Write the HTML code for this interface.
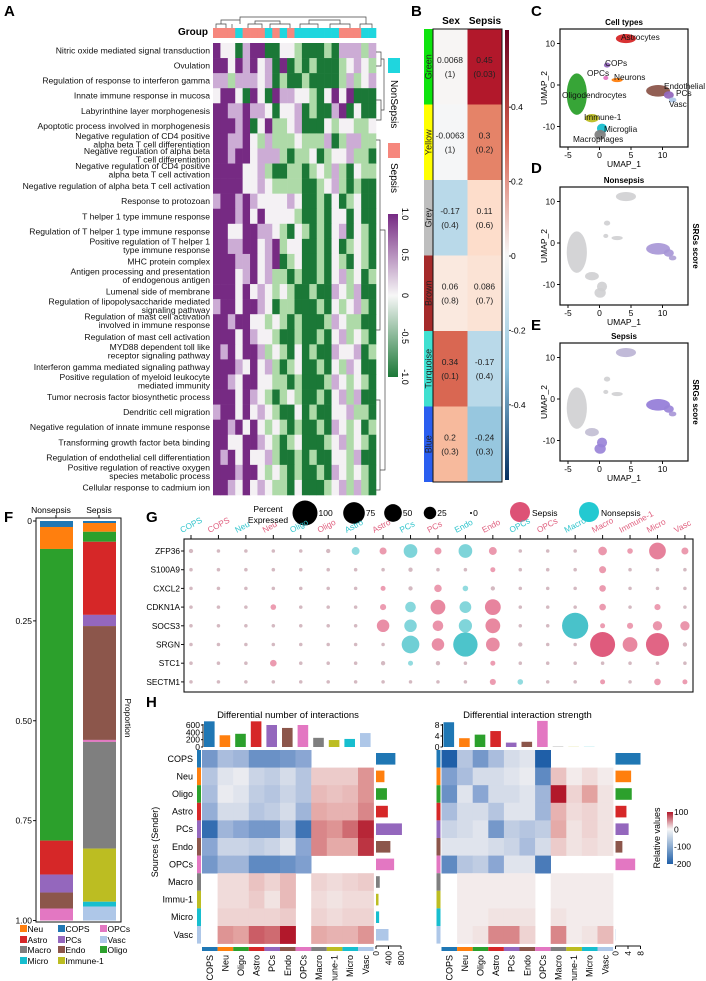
<!DOCTYPE html>
<html><head><meta charset="utf-8"><style>
html,body{margin:0;padding:0;background:#fff}
svg{display:block;font-family:"Liberation Sans",Arial,sans-serif}
</style></head><body>
<svg id="fig" width="706" height="981" viewBox="0 0 706 981" xmlns="http://www.w3.org/2000/svg">
<defs>
<linearGradient id="gA" x1="0" y1="0" x2="0" y2="1"><stop offset="0" stop-color="#762a83"/><stop offset="0.5" stop-color="#f7f7f7"/><stop offset="1" stop-color="#1b7837"/></linearGradient>
<linearGradient id="gB" x1="0" y1="0" x2="0" y2="1"><stop offset="0" stop-color="#67001f"/><stop offset="0.25" stop-color="#d6604d"/><stop offset="0.5" stop-color="#f7f7f7"/><stop offset="0.75" stop-color="#92c5de"/><stop offset="1" stop-color="#053061"/></linearGradient>
<linearGradient id="gH" x1="0" y1="0" x2="0" y2="1"><stop offset="0" stop-color="#b2182b"/><stop offset="0.33" stop-color="#f7f7f7"/><stop offset="1" stop-color="#1f5fa8"/></linearGradient>
</defs>
<g font-weight="bold" font-size="15" fill="#000">
<text x="4" y="16">A</text>
<text x="411" y="16">B</text>
<text x="531" y="16">C</text>
<text x="531" y="173">D</text>
<text x="531" y="330">E</text>
<text x="4" y="522">F</text>
<text x="146" y="522">G</text>
<text x="146" y="707">H</text>
</g>
</svg>
<script>
const NS='http://www.w3.org/2000/svg';
const svg=document.getElementById('fig');
function mk(tag,attrs,parent){const e=document.createElementNS(NS,tag);for(const k in attrs)e.setAttribute(k,attrs[k]);(parent||svg).appendChild(e);return e;}
function tx(x,y,s,attrs){const e=mk('text',Object.assign({x:x,y:y},attrs||{}));e.textContent=s;return e;}
function lerpHex(a,b,t){const pa=[1,3,5].map(i=>parseInt(a.substr(i,2),16)),pb=[1,3,5].map(i=>parseInt(b.substr(i,2),16));return 'rgb('+pa.map((v,i)=>Math.round(v+(pb[i]-v)*t)).join(',')+')';}
function scaleColor(v,stops){for(let i=0;i<stops.length-1;i++){if(v<=stops[i+1][0]){const t=Math.max(0,(v-stops[i][0])/(stops[i+1][0]-stops[i][0]));return lerpHex(stops[i][1],stops[i+1][1],t);}}return stops[stops.length-1][1];}

/* ================= Panel A data ================= */
const aTerms=[["Nitric oxide mediated signal transduction"],["Ovulation"],["Regulation of response to interferon gamma"],["Innate immune response in mucosa"],["Labyrinthine layer morphogenesis"],["Apoptotic process involved in morphogenesis"],["Negative regulation of CD4 positive","alpha beta T cell differentiation"],["Negative regulation of alpha beta","T cell differentiation"],["Negative regulation of CD4 positive","alpha beta T cell activation"],["Negative regulation of alpha beta T cell activation"],["Response to protozoan"],["T helper 1 type immune response"],["Regulation of T helper 1 type immune response"],["Positive regulation of T helper 1","type immune response"],["MHC protein complex"],["Antigen processing and presentation","of endogenous antigen"],["Lumenal side of membrane"],["Regulation of lipopolysaccharide mediated","signaling pathway"],["Regulation of mast cell activation","involved in immune response"],["Regulation of mast cell activation"],["MYD88 dependent toll like","receptor signaling pathway"],["Interferon gamma mediated signaling pathway"],["Positive regulation of myeloid leukocyte","mediated immunity"],["Tumor necrosis factor biosynthetic process"],["Dendritic cell migration"],["Negative regulation of innate immune response"],["Transforming growth factor beta binding"],["Regulation of endothelial cell differentiation"],["Positive regulation of reactive oxygen","species metabolic process"],["Cellular response to cadmium ion"]];
const aGroups="SSSNSSSNSNSNNNNNNSSSNN";
const aRows=["PwwGpPPGGwwgGGGgGpppgp","PPwPpPwpGPGgGgGGGgwpwg","ppgpppwpGgGGgGGGGgpgwp","wPPwGPwGPppwwgGwPwPGGG","PPppPppwGwwpGgGGpPGwGG","PPPpPGwPggwpGGGwgwwggw","PPppPwgpgggwgggpGgppgg","PPpPPwpppgGggwGgwwpggG","PPPPwwpgGGggGgwgpgGwgg","PPPPwwpwggggGGgwpgGgGG","pPPpPpwwwwpwGGgGwGgwGG","PPPpPwPwwwwgGGgGwwGwGG","PPwwPPppwgGwgGgGwpGwgG","PPppPPwpPgwwGGgGwGgwgG","PPPppPwpPGgwGGgGwgGwgG","PPPwpPwpggGgGGgGwpgwGg","PPPwPwpwgwgGGgGGpwgpGG","pPPwPPpwGggGGGgGwgwpgG","PPpPPwwgwgGgGGGgpwggGG","PPPwPpwwgGGgGGgGwpgwgG","PpPwPPpgwgGwGgGGpwwpGg","PPPpwPwpgGgwGGgGwgpwGG","PPpwPPwwggGgGGGgpwgwgG","PPPwPpwgGgwgGGgGwpgpGG","pPPwPwpwgGGwGgGGwwpggG","PPpPwPwgwgGgGGgGpwgwGg","PPwwPPpwgGgwGGGgwpgwgG","PpPwPwwpgGGgGgGGwwgpGG","PPPpPPwgwgGgGGgGpwgwgG","PPpwPwpwggGwGGGgwpgpgG"];
const aLevels={P:1.0,p:0.45,w:0.0,g:-0.45,G:-1.0};

const aX0=213,aX1=376,aY0=43,aY1=495;
const aCW=(aX1-aX0)/aGroups.length, aRH=(aY1-aY0)/aTerms.length;
const aStops=[[-1,'#1b7837'],[-0.5,'#a6d7a0'],[0,'#f4f1f4'],[0.5,'#c7a4d1'],[1,'#762a83']];
const gA=mk('g',{});


tx(208,35,'Group',{'font-size':10,'font-weight':'bold','text-anchor':'end'},gA);
for(let j=0;j<aGroups.length;j++){
  const r=mk('rect',{x:aX0+j*aCW,y:28,width:aCW+0.3,height:10,fill:aGroups[j]==='S'?'#f6877d':'#1fd6de'},gA);
  
  
}
for(let i=0;i<aTerms.length;i++){
  const row=aRows[i];
  for(let j=0;j<aGroups.length;j++){
    const v=aLevels[row[j]]??0;
    const c=mk('rect',{x:aX0+j*aCW,y:aY0+i*aRH,width:aCW+0.3,height:aRH+0.3,fill:scaleColor(v,aStops)},gA);
    
    
  }
  const lines=aTerms[i];const cy=aY0+(i+0.5)*aRH;
  const t=mk('text',{x:210,y:lines.length===1?cy+3:cy-2,'font-size':8.6,'text-anchor':'end',fill:'#111'},gA);
  
  
  lines.forEach((ln,k)=>{const s=mk('tspan',{x:210,dy:k===0?0:8.4},t);s.textContent=ln;});
}
/* dendrograms */
const dg=mk('path',{d:'M216 28V24H226V28M221 24V20H240V24M232 24V28M248 28V24H262V28M255 24V21H280V24M270 28V24H290V28M300 28V24H318V28M309 24V20H340V24M330 28V24H350V28M360 28V24H372V28M366 24V20M240 20V17H366V20',stroke:'#444',fill:'none','stroke-width':0.7},gA);


const dr=mk('path',{d:'M376 52H381V66H376M381 59H384V110H381M376 100H381V120H376M376 140H380V330H376M380 230H385V470H380M376 400H380V490H376',stroke:'#444',fill:'none','stroke-width':0.7},gA);


/* legend */
const lgA=mk('g',{},gA);


mk('rect',{x:388,y:58,width:12,height:15,fill:'#1fd6de'},lgA);
mk('rect',{x:388,y:143,width:12,height:15,fill:'#f6877d'},lgA);
tx(0,0,'NonSepsis',{'font-size':10,transform:'translate(391,80) rotate(90)'},lgA);
tx(0,0,'Sepsis',{'font-size':10,transform:'translate(391,163) rotate(90)'},lgA);
const cbA=mk('rect',{x:388,y:214,width:10,height:163,fill:'url(#gA)'},gA);


const aTicks=['1.0','0.5','0','-0.5','-1.0'];
aTicks.forEach((s,k)=>{const y=214+k*163/4;tx(0,0,s,{'font-size':9,'text-anchor':'middle',transform:`translate(402,${y}) rotate(90)`},gA);});

/* ================= Panel B ================= */
const bModules=['Green','Yellow','Grey','Brown','Turquoise','Blue'];
const bModuleColors=['#0ee40e','#ffff00','#bebebe','#a52a2a','#40e0d0','#2a5ef0'];
const bSex=[0.0068,-0.0063,-0.17,0.06,0.34,0.2];
const bSexP=['1','1','0.4','0.8','0.1','0.3'];
const bSepsis=[0.45,0.3,0.11,0.086,-0.17,-0.24];
const bSepsisP=['0.03','0.2','0.6','0.7','0.4','0.3'];
const bTicks=[0.4,0.2,0,-0.2,-0.4];
const bStops=[[-0.6,'#053061'],[-0.4,'#4393c3'],[-0.25,'#92c5de'],[-0.12,'#d1e5f0'],[0,'#f7f7f7'],[0.12,'#fddbc7'],[0.25,'#f4a582'],[0.35,'#d6604d'],[0.45,'#b2182b'],[0.6,'#67001f']];
const gB=mk('g',{});


const bY0=29,bRH=(482-29)/6;
tx(451,24,'Sex',{'font-size':10,'font-weight':'bold','text-anchor':'middle'},gB);
tx(485,24,'Sepsis',{'font-size':10,'font-weight':'bold','text-anchor':'middle'},gB);
function fmt(v){return String(v);}
for(let i=0;i<bModules.length;i++){
  const y=bY0+i*bRH;
  const s=mk('rect',{x:424,y:y,width:9,height:bRH,fill:bModuleColors[i]},gB);
  
  
  tx(0,0,bModules[i],{'font-size':9,'text-anchor':'middle',fill:'#222',transform:`translate(431.5,${y+bRH/2}) rotate(-90)`},gB);
  [[bSex,bSexP,433],[bSepsis,bSepsisP,467.5]].forEach(([vals,ps,x])=>{
    const c=mk('rect',{x:x,y:y,width:34.5,height:bRH,fill:scaleColor(vals[i],bStops)},gB);
    
    
    tx(x+17,y+bRH/2-4,fmt(vals[i]),{'font-size':8.5,'text-anchor':'middle',fill:'#222'},gB);
    tx(x+17,y+bRH/2+10,'('+ps[i]+')',{'font-size':8.5,'text-anchor':'middle',fill:'#222'},gB);
  });
}
mk('rect',{x:433,y:bY0,width:69,height:453,fill:'none',stroke:'#111','stroke-width':1},gB);
const cbB=mk('rect',{x:505,y:30,width:4,height:450,fill:'url(#gB)'},gB);


const bY=v=>256-v*372;
bTicks.forEach(v=>{mk('line',{x1:509,x2:511,y1:bY(v),y2:bY(v),stroke:'#333'},gB);tx(511,bY(v)+3,String(v),{'font-size':8.5},gB);});

/* ================= Panels C/D/E UMAP ================= */
const umapClusters=['Astrocytes','COPs','OPCs','Neurons','Oligodendrocytes','Immune-1','Microglia','Macrophages','Endothelial','PCs','Vasc'];
const umapCX=[4.2,1.2,1.0,2.8,-3.6,-1.2,0.4,0.1,9.3,11.0,11.6];
const umapCY=[11.2,4.8,1.7,1.2,-2.2,-8.0,-10.5,-12.0,-1.4,-2.4,-3.6];
const umapRX=[1.6,0.5,0.4,0.9,1.6,1.1,0.8,0.9,1.9,0.8,0.6];
const umapRY=[1.1,0.6,0.5,0.5,5.0,1.0,1.2,1.2,1.4,0.9,0.6];
const umapColors=['#d62728','#9467bd','#e377c2','#ff7f0e','#2ca02c','#bcbd22','#17becf','#7f7f7f','#8c564b','#9467bd','#aec7e8'];
const nonsepsisScore=[0,0,0,0,0,0,0,0,0.6,0.6,0.5];
const sepsisScore=[0.3,0,0,0,0,0.2,0.8,0.8,0.9,0.8,0.6];
const uXTicks=[-5,0,5,10],uYTicks=[10,0,-10];
function umapPanel(top,title,mode,scores,name){
  const g=mk('g',{});
  
  
  const X=u=>599.5+u*6.3, Y=u=>top+56-u*4.15;
  tx(624,top-4,title,{'font-size':8,'font-weight':'bold','text-anchor':'middle'},g);
  for(let i=0;i<umapClusters.length;i++){
    let fill=umapColors[i];
    if(mode!=='types'){fill=lerpHex('#cfcfd2','#8a6fd8',scores[i]);}
    const e=mk('ellipse',{cx:X(umapCX[i]),cy:Y(umapCY[i]),rx:umapRX[i]*6.3,ry:umapRY[i]*4.15,fill:fill,opacity:mode==='types'?0.95:0.9},g);
    
    
  }
  mk('rect',{x:560,y:top,width:128,height:118,fill:'none',stroke:'#111','stroke-width':1.2},g);
  uXTicks.forEach(v=>{mk('line',{x1:X(v),x2:X(v),y1:top+118,y2:top+121,stroke:'#111'},g);tx(X(v),top+129,String(v),{'font-size':8.5,'text-anchor':'middle'},g);});
  uYTicks.forEach(v=>{mk('line',{x1:557,x2:560,y1:Y(v),y2:Y(v),stroke:'#111'},g);tx(555,Y(v)+3,String(v),{'font-size':8.5,'text-anchor':'end'},g);});
  tx(624,top+138,'UMAP_1',{'font-size':8.5,'text-anchor':'middle'},g);
  tx(0,0,'UMAP_2',{'font-size':8.5,'text-anchor':'middle',transform:`translate(547,${top+59}) rotate(-90)`},g);
  if(mode!=='types')tx(0,0,'SRGs score',{'font-size':8,'font-weight':'bold','text-anchor':'middle',transform:`translate(693,${top+59}) rotate(90)`},g);
  return g;
}
const gC=umapPanel(29,'Cell types','types',null,'panel-c-umap-cell-types');
[['Astrocytes',621,40],['COPs',605,66],['OPCs',587,76],['Neurons',614,80],['Endothelial',664,89],['Oligodendrocytes',562,98],['PCs',676,96],['Vasc',669,107],['Immune-1',584,120],['Microglia',604,132],['Macrophages',573,142]].forEach(([s,x,y])=>tx(x,y,s,{'font-size':8.3,fill:'#111'},gC));
umapPanel(187,'Nonsepsis','score',nonsepsisScore,'panel-d-umap-nonsepsis');
umapPanel(343,'Sepsis','score',sepsisScore,'panel-e-umap-sepsis');

/* ================= Panel F stacked bars ================= */
const fCellTypes=['COPS','Neu','Oligo','Astro','PCs','Endo','OPCs','Macro','Immune-1','Micro','Vasc'];
const fColors=['#1f77b4','#ff7f0e','#2ca02c','#d62728','#9467bd','#8c564b','#e377c2','#7f7f7f','#bcbd22','#17becf','#aec7e8'];
const fNonsepsis=[0.015,0.055,0.73,0.085,0.045,0.04,0.03,0,0,0,0];
const fSepsis=[0.005,0.022,0.025,0.183,0.028,0.285,0.005,0.267,0.133,0.012,0.035];
const fTicks=[0,0.25,0.5,0.75,1.0];
const fTickLabels=['0','0.25','0.50','0.75','1.00'];
const gF=mk('g',{});


const fY=v=>521+v*399.5;
tx(51,513,'Nonsepsis',{'font-size':8.5,'text-anchor':'middle'},gF);
tx(99,513,'Sepsis',{'font-size':8.5,'text-anchor':'middle'},gF);
[[fNonsepsis,40,'nonsepsis'],[fSepsis,83,'sepsis']].forEach(([vals,x,nm])=>{
  let acc=0;
  vals.forEach((v,i)=>{if(v<=0)return;const r=mk('rect',{x:x,y:fY(acc),width:33,height:fY(acc+v)-fY(acc),fill:fColors[i]},gF);
    
    
    acc+=v;});
});
mk('rect',{x:36,y:518,width:85,height:404,fill:'none',stroke:'#111','stroke-width':1},gF);
fTicks.forEach((v,k)=>{mk('line',{x1:33,x2:36,y1:fY(v),y2:fY(v),stroke:'#111'},gF);tx(32,fY(v)+3,fTickLabels[k],{'font-size':8.5,'text-anchor':'end'},gF);});
mk('line',{x1:56,x2:56,y1:515,y2:518,stroke:'#111'},gF);mk('line',{x1:99,x2:99,y1:515,y2:518,stroke:'#111'},gF);
tx(0,0,'Proportion',{'font-size':8.5,'text-anchor':'middle',transform:'translate(125,718) rotate(90)'},gF);
const fLegOrder=[[1,20,932],[0,58,932],[6,100,932],[3,20,943],[4,58,943],[10,100,943],[7,20,953],[5,58,953],[2,100,953],[9,20,964],[8,58,964]];
fLegOrder.forEach(([i,x,y])=>{const r=mk('rect',{x:x,y:y-7,width:7,height:7,fill:fColors[i]},gF);
  
  
  tx(x+7.5,y,fCellTypes[i]==='Immune-1'?'Immune-1':fCellTypes[i],{'font-size':8.5},gF);});

/* ================= Panel G dot plot ================= */
const gGenes=['ZFP36','S100A9','CXCL2','CDKN1A','SOCS3','SRGN','STC1','SECTM1'];
const gCols=['COPS','COPS','Neu','Neu','Oligo','Oligo','Astro','Astro','PCs','PCs','Endo','Endo','OPCs','OPCs','Macro','Macro','Immune-1','Micro','Vasc'];
const gColGroup=['N','S','N','S','N','S','N','S','N','S','N','S','N','S','N','S','S','S','S'];
const gPct=[
[3,2,2,2,2,3,10,8,30,8,30,10,2,2,2,12,5,45,8],
[2,2,2,2,2,2,2,2,3,2,2,4,2,2,2,8,2,2,2],
[2,2,2,2,2,2,2,4,3,9,5,3,2,2,2,7,2,2,2],
[2,2,2,5,2,2,2,6,18,35,22,40,2,2,2,7,2,6,2],
[2,2,2,2,2,2,2,25,25,18,28,35,2,2,110,4,6,14,14],
[2,2,2,2,2,2,2,2,50,25,95,30,3,2,2,100,35,85,3],
[2,2,2,7,2,2,2,3,4,3,2,4,2,2,2,2,2,2,2],
[2,2,2,2,2,2,2,2,2,2,2,6,5,2,2,4,2,7,4]];
const gLegendPct=[100,75,50,25,0];
const gG=mk('g',{});


const gX=j=>191+j*27.44, gY=i=>551+i*18.7, rad=p=>Math.max(1.1,12.5*Math.sqrt(p/100));
const colN='#3fbfc7',colS='#dd5276';
mk('rect',{x:184,y:539,width:509,height:153,fill:'none',stroke:'#111','stroke-width':1.1},gG);
gCols.forEach((c,j)=>{mk('line',{x1:gX(j),x2:gX(j),y1:535,y2:539,stroke:'#111'},gG);
  const t=tx(0,0,c,{'font-size':8.3,fill:gColGroup[j]==='N'?'#2ec4cc':'#e0607f',transform:`translate(${gX(j)-9},${533}) rotate(-28)`},gG);
  
  });
gGenes.forEach((g,i)=>{mk('line',{x1:181,x2:184,y1:gY(i),y2:gY(i),stroke:'#111'},gG);
  tx(180,gY(i)+3,g,{'font-size':8.3,'text-anchor':'end'},gG);
  gCols.forEach((c,j)=>{const p=gPct[i][j];const col=gColGroup[j]==='N'?colN:colS;
    const d=mk('circle',{cx:gX(j),cy:gY(i),r:rad(p),fill:p<=3?'#c9a8b2':col,opacity:p<=3?0.8:(0.55+Math.min(p,100)/250)},gG);
    
    });
});
tx(268,512,'Percent',{'font-size':8.5,'text-anchor':'middle'},gG);
tx(268,523,'Expressed',{'font-size':8.5,'text-anchor':'middle'},gG);
const legX=[305,354,393,430,471];
gLegendPct.forEach((p,k)=>{const c=mk('circle',{cx:legX[k],cy:513,r:p===0?1:rad(p),fill:'#000'},gG);
  
  
  tx(legX[k]+rad(p)+1,516,String(p),{'font-size':8.5},gG);});
const sl=mk('circle',{cx:520,cy:512,r:10,fill:colS},gG);


tx(532,516,'Sepsis',{'font-size':8.5},gG);
const nl=mk('circle',{cx:589,cy:512,r:10,fill:'#23c9d1'},gG);


tx(601,516,'Nonsepsis',{'font-size':8.5},gG);

/* ================= Panel H heatmaps ================= */
const hCells=['COPS','Neu','Oligo','Astro','PCs','Endo','OPCs','Macro','Immu-1','Micro','Vasc'];
const hColLabels=['COPS','Neu','Oligo','Astro','PCs','Endo','OPCs','Macro','Immune-1','Micro','Vasc'];
const N=null;
const hCount=[
[-120,-70,-80,-130,-130,-120,-100,N,N,N,N],
[-60,-20,-10,-40,-50,-30,-60,25,25,25,55],
[-70,-10,-20,-50,-60,-40,-60,35,30,35,55],
[-90,-30,-30,-60,-50,-30,-80,45,40,40,60],
[-180,-80,-100,-120,-120,-60,-170,60,55,70,95],
[-100,-40,-40,-50,-40,-20,-100,60,45,45,90],
[-120,-80,-80,-140,-140,-130,-110,N,N,N,N],
[N,15,15,30,20,35,N,20,15,20,25],
[N,15,15,25,10,35,N,15,10,15,15],
[N,20,20,20,20,25,N,20,15,20,20],
[N,55,50,75,70,100,N,45,40,40,55]];
const hStrength=[
[-200,-60,-120,-70,-30,-20,-200,N,N,N,N],
[-110,-70,-30,-30,-20,-10,-140,30,5,15,5],
[-130,-20,-100,-30,-30,-20,-80,100,20,50,10],
[-70,-30,-30,-60,-20,-20,-80,40,15,20,10],
[-40,-30,-20,-120,-50,-60,-50,45,10,20,10],
[-20,-20,-20,-30,-40,-70,-30,25,10,15,10],
[-140,-60,-50,-100,-20,-20,-160,N,N,N,N],
[N,5,5,5,5,5,N,5,5,5,5],
[N,5,5,5,5,5,N,5,5,5,5],
[N,5,5,10,10,10,N,10,5,5,5],
[N,5,10,60,60,20,N,60,5,10,35]];
const hCountTop=[700,320,360,700,600,520,600,250,190,220,380];
const hCountRow=[620,270,350,380,830,460,580,120,80,100,400];
const hStrTop=[9,3.2,4.5,5.8,1.6,1.9,9.5,0.1,0.05,0.05,0];
const hStrRow=[8,5,5.2,3.5,4.2,2.2,6.3,0,0,0,0.1];
const hCountTopTicks=[0,200,400,600],hCountRowTicks=[0,400,800];
const hStrTopTicks=[0,4,8],hStrRowTicks=[0,4,8];
const hColorTicks=[100,0,-100,-200];
const hStops=[[-200,'#1f5fa8'],[-100,'#8aa6d3'],[0,'#f5f3f3'],[50,'#e3a2a0'],[100,'#b2182b']];
function hPanel(x0,mat,top,topMax,topTicks,row,rowMax,rowTicks,title,name){
  const g=mk('g',{});
  
  
  const cw=15.6,rh=17.6,y0=750;
  tx(x0+86,718,title,{'font-size':9.5,'text-anchor':'middle'},g);
  for(let i=0;i<11;i++)for(let j=0;j<11;j++){const v=mat[i][j];if(v===null)continue;
    const c=mk('rect',{x:x0+j*cw,y:y0+i*rh,width:cw+0.3,height:rh+0.3,fill:scaleColor(v,hStops)},g);
    
    }
  for(let k=0;k<11;k++){
    mk('rect',{x:x0-5,y:y0+k*rh,width:4,height:rh,fill:fColors[k]},g);
    mk('rect',{x:x0+k*cw,y:947,width:cw,height:4,fill:fColors[k]},g);
    tx(0,0,hColLabels[k],{'font-size':9,'text-anchor':'end',transform:`translate(${x0+k*cw+cw/2+3},955) rotate(-90)`},g);
    const th=22*top[k]/topMax;
    const b=mk('rect',{x:x0+k*cw+2,y:747-th,width:cw-5,height:th,fill:fColors[k]},g);
    
    
    const rw=25*row[k]/rowMax;
    const rb=mk('rect',{x:x0+174,y:y0+k*rh+3,width:rw,height:rh-6,fill:fColors[k]},g);
    
    
  }
  mk('line',{x1:x0+1,x2:x0+1,y1:724,y2:747,stroke:'#111'},g);
  topTicks.forEach(v=>{const y=747-22*v/topMax;mk('line',{x1:x0-1,x2:x0+1,y1:y,y2:y,stroke:'#111'},g);tx(x0-2,y+3,String(v),{'font-size':8.5,'text-anchor':'end'},g);});
  mk('line',{x1:x0+174,x2:x0+174+25,y1:946,y2:946,stroke:'#111'},g);
  rowTicks.forEach(v=>{const x=x0+174+25*v/rowMax;mk('line',{x1:x,x2:x,y1:946,y2:949,stroke:'#111'},g);tx(0,0,String(v),{'font-size':8.5,'text-anchor':'end',transform:`translate(${x+3},951) rotate(-90)`},g);});
  return g;
}
const hL=hPanel(202,hCount,hCountTop,600,hCountTopTicks,hCountRow,800,hCountRowTicks,'Differential number of interactions','panel-h-interaction-number');
hCells.forEach((c,i)=>tx(193,750+(i+0.5)*17.6+3,c,{'font-size':9,'text-anchor':'end'},hL));
tx(0,0,'Sources (Sender)',{'font-size':9,'text-anchor':'middle',transform:'translate(158,842) rotate(-90)'},hL);
const hR=hPanel(441.5,hStrength,hStrTop,8,hStrTopTicks,hStrRow,8,hStrRowTicks,'Differential interaction strength','panel-h-interaction-strength');
const cbH=mk('rect',{x:667,y:812,width:6,height:52,fill:'url(#gH)'});


hColorTicks.forEach(v=>{const y=812+(100-v)/300*52;tx(674,y+3,String(v),{'font-size':8.5});});
tx(0,0,'Relative values',{'font-size':9,'text-anchor':'middle',transform:'translate(660,838) rotate(-90)'});
</script>
</body></html>
